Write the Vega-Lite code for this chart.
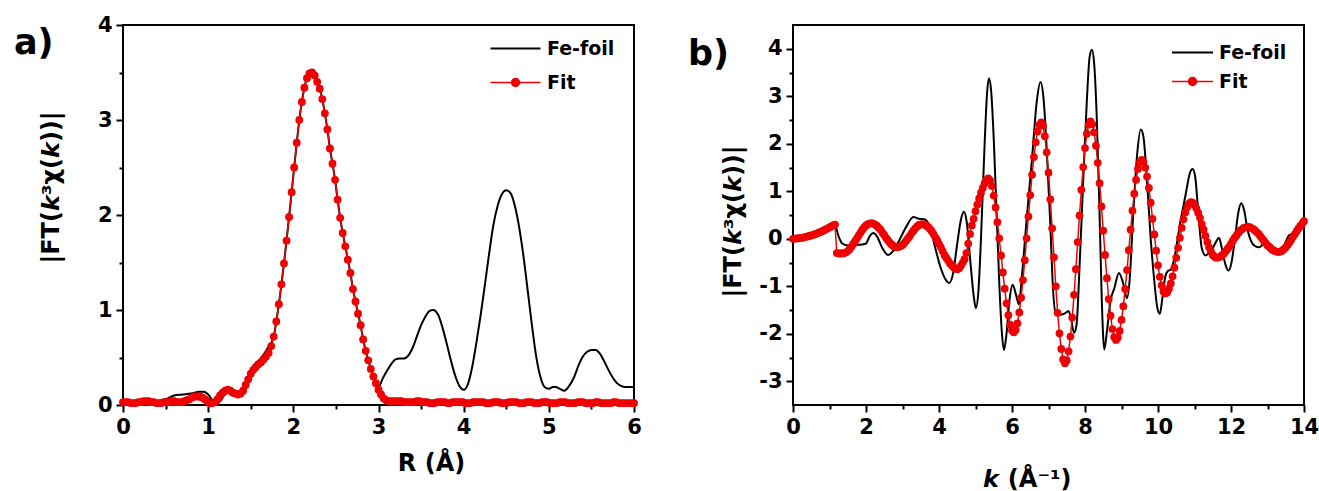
{
  "$schema": "https://vega.github.io/schema/vega-lite/v6.json",
  "background": "white",
  "padding": {"left": 13, "top": 13, "right": 5, "bottom": 5},
  "bounds": "flush",
  "spacing": 159,
  "config": {
    "font": "DejaVu Sans",
    "view": {"stroke": "black", "strokeWidth": 2},
    "axis": {
      "domain": false, "grid": false,
      "tickColor": "black", "tickWidth": 2, "tickSize": 7,
      "labelFont": "DejaVu Sans", "labelFontWeight": "bold", "labelFontSize": 21, "labelColor": "black",
      "labelPadding": 4, "labelFlush": false, "labelOverlap": false, "labelBound": false,
      "titleFont": "DejaVu Sans", "titleFontWeight": "bold", "titleFontSize": 24, "titleColor": "black"
    },
    "title": {"font": "DejaVu Sans", "fontSize": 35, "fontWeight": "bold", "color": "black"}
  },
  "resolve": {"scale": {"color": "independent"}, "legend": {"color": "independent"}},
  "datasets": {
    "aFit": [
      {"x":0.00,"y":0.03},{"x":0.03,"y":0.03},{"x":0.06,"y":0.03},{"x":0.09,"y":0.02},{"x":0.12,"y":0.02},{"x":0.15,"y":0.02},{"x":0.18,"y":0.03},{"x":0.21,"y":0.03},{"x":0.24,"y":0.04},{"x":0.27,"y":0.04},
      {"x":0.30,"y":0.04},{"x":0.33,"y":0.03},{"x":0.36,"y":0.03},{"x":0.39,"y":0.02},{"x":0.42,"y":0.02},{"x":0.45,"y":0.02},{"x":0.48,"y":0.03},{"x":0.51,"y":0.03},{"x":0.54,"y":0.03},{"x":0.57,"y":0.04},
      {"x":0.60,"y":0.04},{"x":0.63,"y":0.03},{"x":0.66,"y":0.03},{"x":0.69,"y":0.03},{"x":0.72,"y":0.04},{"x":0.75,"y":0.05},{"x":0.78,"y":0.06},{"x":0.81,"y":0.08},{"x":0.84,"y":0.09},{"x":0.87,"y":0.09},
      {"x":0.90,"y":0.09},{"x":0.93,"y":0.08},{"x":0.96,"y":0.06},{"x":0.99,"y":0.04},{"x":1.02,"y":0.02},{"x":1.05,"y":0.02},{"x":1.08,"y":0.03},{"x":1.11,"y":0.06},{"x":1.14,"y":0.10},{"x":1.17,"y":0.13},
      {"x":1.20,"y":0.15},{"x":1.23,"y":0.16},{"x":1.26,"y":0.15},{"x":1.29,"y":0.13},{"x":1.32,"y":0.12},{"x":1.35,"y":0.11},{"x":1.38,"y":0.12},{"x":1.41,"y":0.15},{"x":1.44,"y":0.21},{"x":1.47,"y":0.27},
      {"x":1.50,"y":0.33},{"x":1.53,"y":0.37},{"x":1.56,"y":0.40},{"x":1.59,"y":0.43},{"x":1.62,"y":0.45},{"x":1.65,"y":0.48},{"x":1.68,"y":0.51},{"x":1.71,"y":0.55},{"x":1.74,"y":0.62},{"x":1.77,"y":0.72},
      {"x":1.80,"y":0.88},{"x":1.83,"y":1.06},{"x":1.86,"y":1.27},{"x":1.89,"y":1.49},{"x":1.92,"y":1.73},{"x":1.95,"y":1.98},{"x":1.98,"y":2.24},{"x":2.01,"y":2.50},{"x":2.04,"y":2.76},{"x":2.07,"y":3.00},
      {"x":2.10,"y":3.19},{"x":2.13,"y":3.34},{"x":2.16,"y":3.44},{"x":2.19,"y":3.49},{"x":2.22,"y":3.50},{"x":2.25,"y":3.47},{"x":2.28,"y":3.40},{"x":2.31,"y":3.33},{"x":2.34,"y":3.22},{"x":2.37,"y":3.07},
      {"x":2.40,"y":2.90},{"x":2.43,"y":2.70},{"x":2.46,"y":2.54},{"x":2.49,"y":2.37},{"x":2.52,"y":2.16},{"x":2.55,"y":1.97},{"x":2.58,"y":1.81},{"x":2.61,"y":1.67},{"x":2.64,"y":1.53},{"x":2.67,"y":1.39},
      {"x":2.70,"y":1.22},{"x":2.73,"y":1.09},{"x":2.76,"y":0.96},{"x":2.79,"y":0.84},{"x":2.82,"y":0.69},{"x":2.85,"y":0.57},{"x":2.88,"y":0.47},{"x":2.91,"y":0.38},{"x":2.94,"y":0.30},{"x":2.97,"y":0.23},
      {"x":3.00,"y":0.16},{"x":3.03,"y":0.11},{"x":3.06,"y":0.07},{"x":3.09,"y":0.05},{"x":3.12,"y":0.04},{"x":3.15,"y":0.04},{"x":3.18,"y":0.04},{"x":3.21,"y":0.04},{"x":3.24,"y":0.04},{"x":3.27,"y":0.04},
      {"x":3.30,"y":0.03},{"x":3.33,"y":0.03},{"x":3.36,"y":0.03},{"x":3.39,"y":0.03},{"x":3.42,"y":0.03},{"x":3.45,"y":0.04},{"x":3.48,"y":0.04},{"x":3.51,"y":0.03},{"x":3.54,"y":0.03},{"x":3.57,"y":0.03},
      {"x":3.60,"y":0.02},{"x":3.63,"y":0.02},{"x":3.66,"y":0.02},{"x":3.69,"y":0.03},{"x":3.72,"y":0.03},{"x":3.75,"y":0.03},{"x":3.78,"y":0.03},{"x":3.81,"y":0.02},{"x":3.84,"y":0.02},{"x":3.87,"y":0.03},
      {"x":3.90,"y":0.03},{"x":3.93,"y":0.03},{"x":3.96,"y":0.03},{"x":3.99,"y":0.03},{"x":4.02,"y":0.02},{"x":4.05,"y":0.02},{"x":4.08,"y":0.02},{"x":4.11,"y":0.03},{"x":4.14,"y":0.03},{"x":4.17,"y":0.03},
      {"x":4.20,"y":0.03},{"x":4.23,"y":0.03},{"x":4.26,"y":0.02},{"x":4.29,"y":0.02},{"x":4.32,"y":0.02},{"x":4.35,"y":0.03},{"x":4.38,"y":0.03},{"x":4.41,"y":0.03},{"x":4.44,"y":0.02},{"x":4.47,"y":0.02},
      {"x":4.50,"y":0.02},{"x":4.53,"y":0.03},{"x":4.56,"y":0.03},{"x":4.59,"y":0.03},{"x":4.62,"y":0.03},{"x":4.65,"y":0.02},{"x":4.68,"y":0.02},{"x":4.71,"y":0.02},{"x":4.74,"y":0.03},{"x":4.77,"y":0.03},
      {"x":4.80,"y":0.03},{"x":4.83,"y":0.02},{"x":4.86,"y":0.02},{"x":4.89,"y":0.02},{"x":4.92,"y":0.03},{"x":4.95,"y":0.03},{"x":4.98,"y":0.03},{"x":5.01,"y":0.02},{"x":5.04,"y":0.02},{"x":5.07,"y":0.02},
      {"x":5.10,"y":0.02},{"x":5.13,"y":0.03},{"x":5.16,"y":0.03},{"x":5.19,"y":0.03},{"x":5.22,"y":0.02},{"x":5.25,"y":0.02},{"x":5.28,"y":0.02},{"x":5.31,"y":0.02},{"x":5.34,"y":0.03},{"x":5.37,"y":0.03},
      {"x":5.40,"y":0.03},{"x":5.43,"y":0.02},{"x":5.46,"y":0.02},{"x":5.49,"y":0.02},{"x":5.52,"y":0.02},{"x":5.55,"y":0.03},{"x":5.58,"y":0.03},{"x":5.61,"y":0.02},{"x":5.64,"y":0.02},{"x":5.67,"y":0.02},
      {"x":5.70,"y":0.02},{"x":5.73,"y":0.02},{"x":5.76,"y":0.03},{"x":5.79,"y":0.03},{"x":5.82,"y":0.02},{"x":5.85,"y":0.02},{"x":5.88,"y":0.02},{"x":5.91,"y":0.02},{"x":5.94,"y":0.02},{"x":5.97,"y":0.02},
      {"x":6.00,"y":0.02}
    ],
    "aFoil": [
      {"x":0,"y":0.03},{"x":0.1,"y":0.03},{"x":0.2,"y":0.04},{"x":0.3,"y":0.05},{"x":0.4,"y":0.04},{"x":0.5,"y":0.06},{"x":0.6,"y":0.10},{"x":0.7,"y":0.11},{"x":0.8,"y":0.12},{"x":0.9,"y":0.14},
      {"x":0.95,"y":0.14},{"x":1.0,"y":0.11},{"x":1.05,"y":0.05},{"x":1.1,"y":0.01},{"x":1.15,"y":0.05},{"x":1.2,"y":0.12},{"x":1.25,"y":0.15},{"x":1.3,"y":0.13},{"x":1.35,"y":0.11},{"x":1.4,"y":0.14},
      {"x":1.45,"y":0.22},{"x":1.5,"y":0.32},{"x":1.55,"y":0.40},{"x":1.6,"y":0.47},{"x":1.65,"y":0.53},{"x":1.7,"y":0.60},{"x":1.74,"y":0.65},{"x":1.77,"y":0.72},
      {"x":1.80,"y":0.88},{"x":1.83,"y":1.06},{"x":1.86,"y":1.27},{"x":1.89,"y":1.49},{"x":1.92,"y":1.73},{"x":1.95,"y":1.98},{"x":1.98,"y":2.24},{"x":2.01,"y":2.50},{"x":2.04,"y":2.76},{"x":2.07,"y":3.00},
      {"x":2.10,"y":3.19},{"x":2.13,"y":3.34},{"x":2.16,"y":3.44},{"x":2.19,"y":3.49},{"x":2.22,"y":3.50},{"x":2.25,"y":3.47},{"x":2.28,"y":3.40},{"x":2.31,"y":3.33},{"x":2.34,"y":3.22},{"x":2.37,"y":3.07},
      {"x":2.40,"y":2.90},{"x":2.43,"y":2.70},{"x":2.46,"y":2.54},{"x":2.49,"y":2.37},{"x":2.52,"y":2.16},{"x":2.55,"y":1.97},{"x":2.58,"y":1.81},{"x":2.61,"y":1.67},{"x":2.64,"y":1.53},{"x":2.67,"y":1.39},
      {"x":2.70,"y":1.22},{"x":2.73,"y":1.09},{"x":2.76,"y":0.96},{"x":2.79,"y":0.84},{"x":2.82,"y":0.69},{"x":2.85,"y":0.57},{"x":2.88,"y":0.47},{"x":2.91,"y":0.38},{"x":2.94,"y":0.30},{"x":2.97,"y":0.23},
      {"x":3.0,"y":0.19},{"x":3.05,"y":0.28},{"x":3.1,"y":0.36},{"x":3.15,"y":0.43},{"x":3.2,"y":0.48},{"x":3.25,"y":0.49},{"x":3.3,"y":0.49},{"x":3.35,"y":0.52},{"x":3.4,"y":0.60},{"x":3.45,"y":0.72},
      {"x":3.5,"y":0.84},{"x":3.55,"y":0.93},{"x":3.6,"y":0.99},{"x":3.64,"y":1.00},{"x":3.7,"y":0.95},{"x":3.75,"y":0.82},{"x":3.8,"y":0.65},{"x":3.85,"y":0.47},{"x":3.9,"y":0.31},{"x":3.95,"y":0.20},
      {"x":4.0,"y":0.16},{"x":4.05,"y":0.22},{"x":4.1,"y":0.40},{"x":4.15,"y":0.66},{"x":4.2,"y":0.95},{"x":4.25,"y":1.27},{"x":4.3,"y":1.60},{"x":4.35,"y":1.90},{"x":4.4,"y":2.10},{"x":4.45,"y":2.22},
      {"x":4.5,"y":2.26},{"x":4.55,"y":2.23},{"x":4.6,"y":2.10},{"x":4.65,"y":1.88},{"x":4.7,"y":1.58},{"x":4.75,"y":1.22},{"x":4.8,"y":0.85},{"x":4.85,"y":0.52},{"x":4.9,"y":0.30},{"x":4.95,"y":0.19},
      {"x":5.0,"y":0.17},{"x":5.05,"y":0.19},{"x":5.08,"y":0.19},{"x":5.13,"y":0.17},{"x":5.18,"y":0.15},{"x":5.23,"y":0.19},{"x":5.3,"y":0.30},{"x":5.35,"y":0.42},{"x":5.4,"y":0.51},{"x":5.45,"y":0.56},
      {"x":5.5,"y":0.58},{"x":5.55,"y":0.58},{"x":5.6,"y":0.54},{"x":5.65,"y":0.46},{"x":5.7,"y":0.37},{"x":5.75,"y":0.29},{"x":5.8,"y":0.23},{"x":5.85,"y":0.20},{"x":5.9,"y":0.19},{"x":5.95,"y":0.19},
      {"x":6.0,"y":0.19}
    ],
    "bFit": [
      {"x":0.00,"y":0.00},{"x":0.05,"y":0.00},{"x":0.10,"y":0.01},{"x":0.15,"y":0.01},{"x":0.20,"y":0.02},{"x":0.25,"y":0.02},{"x":0.30,"y":0.03},{"x":0.35,"y":0.04},{"x":0.40,"y":0.05},{"x":0.45,"y":0.06},
      {"x":0.50,"y":0.07},{"x":0.55,"y":0.08},{"x":0.60,"y":0.10},{"x":0.65,"y":0.11},{"x":0.70,"y":0.13},{"x":0.75,"y":0.14},{"x":0.80,"y":0.16},{"x":0.85,"y":0.18},{"x":0.90,"y":0.20},{"x":0.95,"y":0.22},
      {"x":1.00,"y":0.24},{"x":1.05,"y":0.26},{"x":1.10,"y":0.28},{"x":1.15,"y":0.30},{"x":1.20,"y":-0.30},{"x":1.25,"y":-0.31},{"x":1.30,"y":-0.31},{"x":1.35,"y":-0.31},{"x":1.40,"y":-0.30},{"x":1.45,"y":-0.29},
      {"x":1.50,"y":-0.26},{"x":1.55,"y":-0.22},{"x":1.60,"y":-0.17},{"x":1.65,"y":-0.11},{"x":1.70,"y":-0.05},{"x":1.75,"y":0.01},{"x":1.80,"y":0.07},{"x":1.85,"y":0.13},{"x":1.90,"y":0.19},{"x":1.95,"y":0.24},
      {"x":2.00,"y":0.28},{"x":2.05,"y":0.31},{"x":2.10,"y":0.32},{"x":2.15,"y":0.33},{"x":2.20,"y":0.32},{"x":2.25,"y":0.30},{"x":2.30,"y":0.27},{"x":2.35,"y":0.23},{"x":2.40,"y":0.19},{"x":2.45,"y":0.13},
      {"x":2.50,"y":0.08},{"x":2.55,"y":0.02},{"x":2.60,"y":-0.03},{"x":2.65,"y":-0.08},{"x":2.70,"y":-0.12},{"x":2.75,"y":-0.15},{"x":2.80,"y":-0.17},{"x":2.85,"y":-0.18},{"x":2.90,"y":-0.17},{"x":2.95,"y":-0.15},
      {"x":3.00,"y":-0.13},{"x":3.05,"y":-0.09},{"x":3.10,"y":-0.04},{"x":3.15,"y":0.01},{"x":3.20,"y":0.06},{"x":3.25,"y":0.12},{"x":3.30,"y":0.17},{"x":3.35,"y":0.22},{"x":3.40,"y":0.26},{"x":3.45,"y":0.29},
      {"x":3.50,"y":0.30},{"x":3.55,"y":0.31},{"x":3.60,"y":0.30},{"x":3.65,"y":0.28},{"x":3.70,"y":0.25},{"x":3.75,"y":0.21},{"x":3.80,"y":0.16},{"x":3.85,"y":0.10},{"x":3.90,"y":0.03},{"x":3.95,"y":-0.03},
      {"x":4.00,"y":-0.11},{"x":4.05,"y":-0.18},{"x":4.10,"y":-0.26},{"x":4.15,"y":-0.34},{"x":4.20,"y":-0.40},{"x":4.25,"y":-0.46},{"x":4.30,"y":-0.52},{"x":4.35,"y":-0.56},{"x":4.40,"y":-0.60},{"x":4.45,"y":-0.63},
      {"x":4.50,"y":-0.64},{"x":4.55,"y":-0.62},{"x":4.60,"y":-0.57},{"x":4.65,"y":-0.50},{"x":4.70,"y":-0.43},{"x":4.75,"y":-0.30},{"x":4.80,"y":-0.10},{"x":4.85,"y":0.10},{"x":4.90,"y":0.28},{"x":4.95,"y":0.42},
      {"x":5.00,"y":0.58},{"x":5.05,"y":0.72},{"x":5.10,"y":0.85},{"x":5.15,"y":0.97},{"x":5.20,"y":1.07},{"x":5.25,"y":1.17},{"x":5.30,"y":1.24},{"x":5.35,"y":1.27},{"x":5.40,"y":1.23},{"x":5.45,"y":1.11},
      {"x":5.50,"y":0.91},{"x":5.55,"y":0.66},{"x":5.60,"y":0.35},{"x":5.65,"y":0.01},{"x":5.70,"y":-0.35},{"x":5.75,"y":-0.71},{"x":5.80,"y":-1.05},{"x":5.85,"y":-1.36},{"x":5.90,"y":-1.61},{"x":5.95,"y":-1.81},
      {"x":6.00,"y":-1.93},{"x":6.05,"y":-1.97},{"x":6.10,"y":-1.92},{"x":6.15,"y":-1.78},{"x":6.20,"y":-1.55},{"x":6.25,"y":-1.24},{"x":6.30,"y":-0.87},{"x":6.35,"y":-0.45},{"x":6.40,"y":0.01},{"x":6.45,"y":0.47},
      {"x":6.50,"y":0.92},{"x":6.55,"y":1.35},{"x":6.60,"y":1.72},{"x":6.65,"y":2.03},{"x":6.70,"y":2.26},{"x":6.75,"y":2.40},{"x":6.80,"y":2.45},{"x":6.85,"y":2.38},{"x":6.90,"y":2.16},{"x":6.95,"y":1.82},
      {"x":7.00,"y":1.39},{"x":7.05,"y":0.83},{"x":7.10,"y":0.22},{"x":7.15,"y":-0.39},{"x":7.20,"y":-1.00},{"x":7.25,"y":-1.56},{"x":7.30,"y":-1.99},{"x":7.35,"y":-2.32},{"x":7.40,"y":-2.54},{"x":7.45,"y":-2.62},
      {"x":7.50,"y":-2.56},{"x":7.55,"y":-2.37},{"x":7.60,"y":-2.06},{"x":7.65,"y":-1.66},{"x":7.70,"y":-1.18},{"x":7.75,"y":-0.64},{"x":7.80,"y":-0.07},{"x":7.85,"y":0.49},{"x":7.90,"y":1.03},{"x":7.95,"y":1.51},
      {"x":8.00,"y":1.91},{"x":8.05,"y":2.21},{"x":8.10,"y":2.40},{"x":8.15,"y":2.47},{"x":8.20,"y":2.41},{"x":8.25,"y":2.24},{"x":8.30,"y":1.96},{"x":8.35,"y":1.60},{"x":8.40,"y":1.17},{"x":8.45,"y":0.68},
      {"x":8.50,"y":0.17},{"x":8.55,"y":-0.34},{"x":8.60,"y":-0.83},{"x":8.65,"y":-1.27},{"x":8.70,"y":-1.62},{"x":8.75,"y":-1.90},{"x":8.80,"y":-2.07},{"x":8.85,"y":-2.13},{"x":8.90,"y":-2.08},{"x":8.95,"y":-1.94},
      {"x":9.00,"y":-1.71},{"x":9.05,"y":-1.42},{"x":9.10,"y":-1.06},{"x":9.15,"y":-0.66},{"x":9.20,"y":-0.24},{"x":9.25,"y":0.19},{"x":9.30,"y":0.59},{"x":9.35,"y":0.95},{"x":9.40,"y":1.24},{"x":9.45,"y":1.47},
      {"x":9.50,"y":1.61},{"x":9.55,"y":1.66},{"x":9.60,"y":1.62},{"x":9.65,"y":1.50},{"x":9.70,"y":1.31},{"x":9.75,"y":1.07},{"x":9.80,"y":0.76},{"x":9.85,"y":0.42},{"x":9.90,"y":0.09},{"x":9.95,"y":-0.25},
      {"x":10.00,"y":-0.56},{"x":10.05,"y":-0.80},{"x":10.10,"y":-0.98},{"x":10.15,"y":-1.11},{"x":10.20,"y":-1.15},{"x":10.25,"y":-1.13},{"x":10.30,"y":-1.05},{"x":10.35,"y":-0.94},{"x":10.40,"y":-0.79},{"x":10.45,"y":-0.61},
      {"x":10.50,"y":-0.40},{"x":10.55,"y":-0.19},{"x":10.60,"y":0.02},{"x":10.65,"y":0.23},{"x":10.70,"y":0.41},{"x":10.75,"y":0.56},{"x":10.80,"y":0.67},{"x":10.85,"y":0.74},{"x":10.90,"y":0.77},{"x":10.95,"y":0.76},
      {"x":11.00,"y":0.71},{"x":11.05,"y":0.64},{"x":11.10,"y":0.55},{"x":11.15,"y":0.44},{"x":11.20,"y":0.31},{"x":11.25,"y":0.19},{"x":11.30,"y":0.06},{"x":11.35,"y":-0.07},{"x":11.40,"y":-0.18},{"x":11.45,"y":-0.27},
      {"x":11.50,"y":-0.34},{"x":11.55,"y":-0.38},{"x":11.60,"y":-0.40},{"x":11.65,"y":-0.39},{"x":11.70,"y":-0.38},{"x":11.75,"y":-0.35},{"x":11.80,"y":-0.32},{"x":11.85,"y":-0.27},{"x":11.90,"y":-0.22},{"x":11.95,"y":-0.17},
      {"x":12.00,"y":-0.11},{"x":12.05,"y":-0.04},{"x":12.10,"y":0.02},{"x":12.15,"y":0.07},{"x":12.20,"y":0.12},{"x":12.25,"y":0.17},{"x":12.30,"y":0.20},{"x":12.35,"y":0.23},{"x":12.40,"y":0.24},{"x":12.45,"y":0.25},
      {"x":12.50,"y":0.25},{"x":12.55,"y":0.23},{"x":12.60,"y":0.21},{"x":12.65,"y":0.18},{"x":12.70,"y":0.14},{"x":12.75,"y":0.11},{"x":12.80,"y":0.06},{"x":12.85,"y":0.01},{"x":12.90,"y":-0.04},{"x":12.95,"y":-0.09},
      {"x":13.00,"y":-0.14},{"x":13.05,"y":-0.17},{"x":13.10,"y":-0.21},{"x":13.15,"y":-0.24},{"x":13.20,"y":-0.26},{"x":13.25,"y":-0.27},{"x":13.30,"y":-0.28},{"x":13.35,"y":-0.27},{"x":13.40,"y":-0.25},{"x":13.45,"y":-0.22},
      {"x":13.50,"y":-0.18},{"x":13.55,"y":-0.13},{"x":13.60,"y":-0.08},{"x":13.65,"y":-0.02},{"x":13.70,"y":0.04},{"x":13.75,"y":0.10},{"x":13.80,"y":0.16},{"x":13.85,"y":0.22},{"x":13.90,"y":0.27},{"x":13.95,"y":0.32},
      {"x":14.00,"y":0.37}
    ],
    "bFoil": [
      {"x":0,"y":0},{"x":0.5,"y":0.07},{"x":1.0,"y":0.24},{"x":1.15,"y":0.28},{"x":1.25,"y":0.05},{"x":1.35,"y":-0.10},{"x":1.5,"y":-0.14},{"x":1.7,"y":-0.13},{"x":1.9,"y":-0.12},{"x":2.0,"y":-0.10},
      {"x":2.1,"y":0.05},{"x":2.2,"y":0.12},{"x":2.3,"y":0.05},{"x":2.45,"y":-0.20},{"x":2.6,"y":-0.34},{"x":2.75,"y":-0.25},{"x":2.9,"y":-0.05},{"x":3.1,"y":0.25},{"x":3.3,"y":0.46},{"x":3.45,"y":0.42},
      {"x":3.6,"y":0.41},{"x":3.75,"y":0.25},{"x":3.9,"y":-0.20},{"x":4.05,"y":-0.62},{"x":4.2,"y":-0.88},{"x":4.28,"y":-0.93},{"x":4.38,"y":-0.75},{"x":4.5,"y":-0.10},{"x":4.6,"y":0.40},{"x":4.68,"y":0.57},
      {"x":4.76,"y":0.35},{"x":4.85,"y":-0.40},{"x":4.95,"y":-1.20},{"x":5.01,"y":-1.46},{"x":5.08,"y":-1.10},{"x":5.15,"y":0.00},{"x":5.25,"y":2.00},{"x":5.32,"y":3.10},{"x":5.37,"y":3.38},{"x":5.43,"y":3.10},
      {"x":5.5,"y":2.10},{"x":5.58,"y":0.50},{"x":5.65,"y":-0.90},{"x":5.72,"y":-1.95},{"x":5.78,"y":-2.34},{"x":5.85,"y":-2.00},{"x":5.93,"y":-1.30},{"x":6.02,"y":-0.97},{"x":6.1,"y":-1.15},{"x":6.19,"y":-1.38},
      {"x":6.27,"y":-0.80},{"x":6.4,"y":0.40},{"x":6.55,"y":1.70},{"x":6.68,"y":2.90},{"x":6.78,"y":3.30},{"x":6.87,"y":2.90},{"x":6.95,"y":1.90},{"x":7.05,"y":0.30},{"x":7.12,"y":-1.00},{"x":7.2,"y":-1.58},
      {"x":7.3,"y":-1.60},{"x":7.45,"y":-1.57},{"x":7.55,"y":-1.52},{"x":7.62,"y":-1.70},{"x":7.7,"y":-1.98},{"x":7.77,"y":-1.80},{"x":7.85,"y":-0.60},{"x":7.95,"y":1.20},{"x":8.05,"y":2.90},{"x":8.13,"y":3.85},
      {"x":8.19,"y":3.98},{"x":8.25,"y":3.70},{"x":8.32,"y":2.60},{"x":8.4,"y":0.50},{"x":8.46,"y":-1.30},{"x":8.53,"y":-2.33},{"x":8.6,"y":-1.95},{"x":8.7,"y":-1.30},{"x":8.8,"y":-1.05},{"x":8.93,"y":-0.72},
      {"x":9.05,"y":-0.95},{"x":9.15,"y":-1.25},{"x":9.22,"y":-0.90},{"x":9.32,"y":0.50},{"x":9.42,"y":1.70},{"x":9.53,"y":2.30},{"x":9.6,"y":2.15},{"x":9.7,"y":1.20},{"x":9.8,"y":0.00},{"x":9.9,"y":-0.90},
      {"x":9.98,"y":-1.45},{"x":10.05,"y":-1.58},{"x":10.12,"y":-1.25},{"x":10.2,"y":-0.80},{"x":10.27,"y":-0.68},{"x":10.35,"y":-0.65},{"x":10.45,"y":-0.40},{"x":10.6,"y":0.30},{"x":10.75,"y":0.90},{"x":10.88,"y":1.40},
      {"x":10.95,"y":1.47},{"x":11.02,"y":1.30},{"x":11.1,"y":0.60},{"x":11.2,"y":-0.20},{"x":11.3,"y":-0.35},{"x":11.4,"y":-0.30},{"x":11.5,"y":-0.20},{"x":11.6,"y":-0.05},{"x":11.67,"y":0.02},{"x":11.75,"y":-0.20},
      {"x":11.85,"y":-0.55},{"x":11.93,"y":-0.67},{"x":12.0,"y":-0.55},{"x":12.1,"y":-0.05},{"x":12.2,"y":0.55},{"x":12.28,"y":0.75},{"x":12.36,"y":0.60},{"x":12.45,"y":0.20},{"x":12.55,"y":-0.05},{"x":12.65,"y":-0.15},
      {"x":12.77,"y":-0.18},{"x":12.9,"y":-0.10},{"x":13.0,"y":-0.08},{"x":13.1,"y":-0.15},{"x":13.2,"y":-0.25},{"x":13.3,"y":-0.28},{"x":13.45,"y":-0.15},{"x":13.6,"y":0.08},{"x":13.7,"y":0.10},{"x":13.85,"y":0.20},
      {"x":14.0,"y":0.37}
    ]
  },
  "hconcat": [
    {
      "width": 511, "height": 380,
      "title": {"text": "a)", "anchor": "start", "frame": "group", "dx": -109, "dy": 47, "baseline": "top", "offset": 0},
      "resolve": {"axis": {"x": "independent", "y": "independent"}},
      "layer": [
        {
          "data": {"name": "aFoil"},
          "mark": {"type": "line", "strokeWidth": 2, "interpolate": "monotone"},
          "encoding": {
            "x": {"field": "x", "type": "quantitative", "scale": {"domain": [0, 6], "nice": false, "zero": false},
                  "axis": {"orient": "bottom", "values": [0, 1, 2, 3, 4, 5, 6], "title": "R (Å)", "titleX": 308, "titleY": 65, "titleBaseline": "alphabetic", "titleAlign": "center"}},
            "y": {"field": "y", "type": "quantitative", "scale": {"domain": [0, 4], "nice": false, "zero": false},
                  "axis": {"orient": "left", "values": [0, 1, 2, 3, 4], "title": "|FT(𝙠³χ(𝙠))|", "titleX": -65, "titleY": 162, "titleBaseline": "alphabetic", "titleAlign": "center", "titleAngle": 270}},
            "color": {"datum": "Fe-foil", "type": "nominal", "scale": {"domain": ["Fe-foil", "Fit"], "range": ["#000000", "#f00000"]},
                      "legend": {"orient": "none", "legendX": 383, "legendY": 14, "title": null, "padding": 0,
                                 "symbolSize": 400, "symbolStrokeWidth": 2, "labelOffset": 22, "rowPadding": 14,
                                 "labelFont": "DejaVu Sans", "labelFontSize": 19, "labelFontWeight": "bold", "labelColor": "black",
                                 "encode": {"symbols": {"update": {
                                   "shape": {"signal": "datum.value === 'Fit' ? 'M-2.5,0H2.5M-0.4,0A0.4,0.4 0 1,1 0.4,0A0.4,0.4 0 1,1 -0.4,0Z' : 'M-2.5,0H2.5'"},
                                   "fill": {"signal": "datum.value === 'Fit' ? '#f00000' : 'transparent'"},
                                   "stroke": {"signal": "datum.value === 'Fit' ? '#f00000' : '#000000'"},
                                   "strokeWidth": {"signal": "datum.value === 'Fit' ? 1.5 : 2"},
                                   "opacity": {"value": 1}}}}}}
          }
        },
        {
          "data": {"name": "aFit"},
          "mark": {"type": "line", "strokeWidth": 1.5},
          "encoding": {
            "x": {"field": "x", "type": "quantitative", "axis": null},
            "y": {"field": "y", "type": "quantitative", "axis": null},
            "color": {"datum": "Fit", "type": "nominal"}
          }
        },
        {
          "data": {"name": "aFit"},
          "mark": {"type": "circle", "size": 62, "color": "#f00000", "opacity": 1},
          "encoding": {
            "x": {"field": "x", "type": "quantitative",
                  "axis": {"orient": "bottom", "values": [0.5, 1.5, 2.5, 3.5, 4.5, 5.5], "labels": false, "tickSize": 4, "title": null}},
            "y": {"field": "y", "type": "quantitative",
                  "axis": {"orient": "left", "values": [0.5, 1.5, 2.5, 3.5], "labels": false, "tickSize": 4, "title": null}}
          }
        }
      ]
    },
    {
      "width": 511, "height": 380,
      "title": {"text": "b)", "anchor": "start", "frame": "group", "dx": -105, "dy": 47, "baseline": "top", "offset": 0},
      "resolve": {"axis": {"x": "independent", "y": "independent"}},
      "layer": [
        {
          "data": {"name": "bFoil"},
          "mark": {"type": "line", "strokeWidth": 2, "interpolate": "monotone"},
          "encoding": {
            "x": {"field": "x", "type": "quantitative", "scale": {"domain": [0, 14], "nice": false, "zero": false},
                  "axis": {"orient": "bottom", "values": [0, 2, 4, 6, 8, 10, 12, 14], "title": "𝙠 (Å⁻¹)", "titleX": 234, "titleY": 81, "titleBaseline": "alphabetic", "titleAlign": "center"}},
            "y": {"field": "y", "type": "quantitative", "scale": {"domain": [-3.5, 4.5], "nice": false, "zero": false},
                  "axis": {"orient": "left", "values": [-3, -2, -1, 0, 1, 2, 3, 4], "labelExpr": "replace(datum.label, '−', '-')", "title": "|FT(𝙠³χ(𝙠))|", "titleX": -53, "titleY": 196, "titleBaseline": "alphabetic", "titleAlign": "center", "titleAngle": 270}},
            "color": {"datum": "Fe-foil", "type": "nominal", "scale": {"domain": ["Fe-foil", "Fit"], "range": ["#000000", "#f00000"]},
                      "legend": {"orient": "none", "legendX": 390, "legendY": 18, "title": null, "padding": 0,
                                 "symbolSize": 400, "symbolStrokeWidth": 2, "labelOffset": 17, "rowPadding": 9,
                                 "labelFont": "DejaVu Sans", "labelFontSize": 19, "labelFontWeight": "bold", "labelColor": "black",
                                 "encode": {"symbols": {"update": {
                                   "shape": {"signal": "datum.value === 'Fit' ? 'M-2.05,0H2.05M-0.4,0A0.4,0.4 0 1,1 0.4,0A0.4,0.4 0 1,1 -0.4,0Z' : 'M-2.05,0H2.05'"},
                                   "fill": {"signal": "datum.value === 'Fit' ? '#f00000' : 'transparent'"},
                                   "stroke": {"signal": "datum.value === 'Fit' ? '#f00000' : '#000000'"},
                                   "strokeWidth": {"signal": "datum.value === 'Fit' ? 1.5 : 2"},
                                   "opacity": {"value": 1}}}}}}
          }
        },
        {
          "data": {"name": "bFit"},
          "mark": {"type": "line", "strokeWidth": 1.5},
          "encoding": {
            "x": {"field": "x", "type": "quantitative", "axis": null},
            "y": {"field": "y", "type": "quantitative", "axis": null},
            "color": {"datum": "Fit", "type": "nominal"}
          }
        },
        {
          "data": {"name": "bFit"},
          "mark": {"type": "circle", "size": 60, "color": "#f00000", "opacity": 1},
          "encoding": {
            "x": {"field": "x", "type": "quantitative",
                  "axis": {"orient": "bottom", "values": [1, 3, 5, 7, 9, 11, 13], "labels": false, "tickSize": 4, "title": null}},
            "y": {"field": "y", "type": "quantitative",
                  "axis": {"orient": "left", "values": [-2.5, -1.5, -0.5, 0.5, 1.5, 2.5, 3.5], "labels": false, "tickSize": 4, "title": null}}
          }
        }
      ]
    }
  ]
}
